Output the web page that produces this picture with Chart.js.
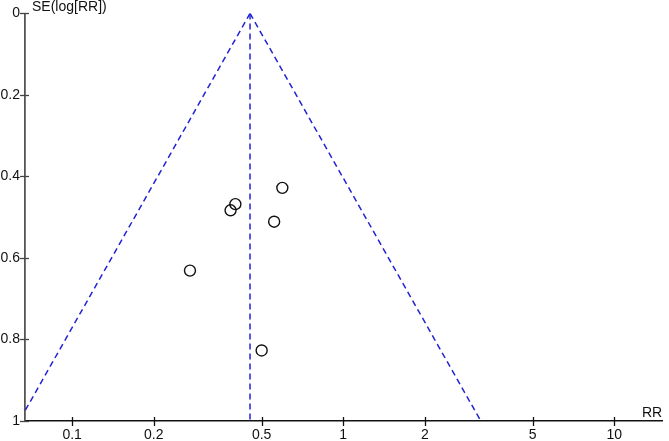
<!DOCTYPE html>
<html>
<head>
<meta charset="utf-8">
<script src="https://cdn.jsdelivr.net/npm/chart.js@4"></script>
<style>
    html, body { margin: 0; padding: 0; background: #fff; }
    #wrap { width: 669px; height: 441px; }
</style>
</head>
<body>
<div id="wrap"><canvas id="funnelChart"></canvas></div>
<script>
// Study estimates (risk ratio and standard error of log RR)
const studyRR = [0.596, 0.400, 0.384, 0.556, 0.272, 0.500];
const studySE = [0.428, 0.468, 0.483, 0.511, 0.631, 0.827];

// Pooled estimate and funnel limits
const pooledRR = 0.453;
const seLimits = [0, 1];

// Tick labels
const xTicks = [0.1, 0.2, 0.5, 1, 2, 5, 10];
const yTicks = [0, 0.2, 0.4, 0.6, 0.8, 1];

const points = studyRR.map((rr, i) => ({ x: rr, y: studySE[i] }));
const leftLine = seLimits.map(se => ({ x: pooledRR * Math.exp(-1.96 * se), y: se }));
const rightLine = seLimits.map(se => ({ x: pooledRR * Math.exp(1.96 * se), y: se }));
const midLine = seLimits.map(se => ({ x: pooledRR, y: se }));

const font = { family: '"Liberation Sans", Arial, sans-serif', size: 14 };

// Tick marks crossing the axes plus the axis captions
const axisDecor = {
    id: 'axisDecor',
    afterDraw(chart) {
        const ctx = chart.ctx;
        const xs = chart.scales.x;
        const ys = chart.scales.y;
        const area = chart.chartArea;
        ctx.save();
        ctx.strokeStyle = '#111';
        ctx.lineWidth = 1.3;
        xTicks.forEach(v => {
            const px = Math.round(xs.getPixelForValue(v)) + 0.5;
            ctx.beginPath();
            ctx.moveTo(px, area.bottom - 4);
            ctx.lineTo(px, area.bottom + 5);
            ctx.stroke();
        });
        ctx.strokeStyle = '#444';
        yTicks.forEach(v => {
            const py = Math.round(ys.getPixelForValue(v)) + 0.5;
            ctx.beginPath();
            ctx.moveTo(area.left - 5, py);
            ctx.lineTo(area.left + 4, py);
            ctx.stroke();
        });
        ctx.fillStyle = '#111';
        ctx.font = font.size + 'px ' + font.family;
        ctx.textBaseline = 'middle';
        ctx.textAlign = 'left';
        ctx.fillText('SE(log[RR])', area.left + 7, 7);
        ctx.textAlign = 'right';
        ctx.fillText('RR', area.right, area.bottom - 8);
        ctx.restore();
    }
};

const funnelLine = {
    showLine: true,
    pointRadius: 0,
    borderColor: '#2323d6',
    borderWidth: 1.5,
    borderDash: [6, 4]
};

new Chart(document.getElementById('funnelChart'), {
    type: 'scatter',
    data: {
        datasets: [
            {
                label: 'Studies',
                data: points,
                pointRadius: 5.5,
                pointHoverRadius: 5.5,
                pointBorderColor: '#111',
                pointBackgroundColor: 'rgba(255,255,255,0)',
                pointBorderWidth: 1.4
            },
            Object.assign({ label: 'Lower limit', data: leftLine }, funnelLine),
            Object.assign({ label: 'Upper limit', data: rightLine }, funnelLine),
            Object.assign({ label: 'Pooled', data: midLine }, funnelLine)
        ]
    },
    options: {
        responsive: true,
        maintainAspectRatio: false,
        animation: false,
        layout: { padding: { top: 13, right: 0, left: 0, bottom: 0 } },
        plugins: {
            legend: { display: false },
            tooltip: { enabled: false }
        },
        scales: {
            x: {
                type: 'logarithmic',
                min: 0.067,
                max: 15,
                afterBuildTicks: s => { s.ticks = xTicks.map(v => ({ value: v })); },
                afterFit: s => { s.height = 20; },
                grid: { display: false, drawTicks: false },
                border: { display: true, color: '#111', width: 1.5 },
                ticks: {
                    autoSkip: false,
                    maxRotation: 0,
                    padding: 6,
                    color: '#111',
                    font: font,
                    callback: v => String(v)
                }
            },
            y: {
                type: 'linear',
                reverse: true,
                min: 0,
                max: 1,
                afterBuildTicks: s => { s.ticks = yTicks.map(v => ({ value: v })); },
                afterFit: s => { s.width = 25; },
                grid: { display: false, drawTicks: false },
                border: { display: true, color: '#555', width: 1.8 },
                ticks: {
                    padding: 5,
                    color: '#111',
                    font: font,
                    callback: v => String(v)
                }
            }
        }
    },
    plugins: [axisDecor]
});
</script>
</body>
</html>
